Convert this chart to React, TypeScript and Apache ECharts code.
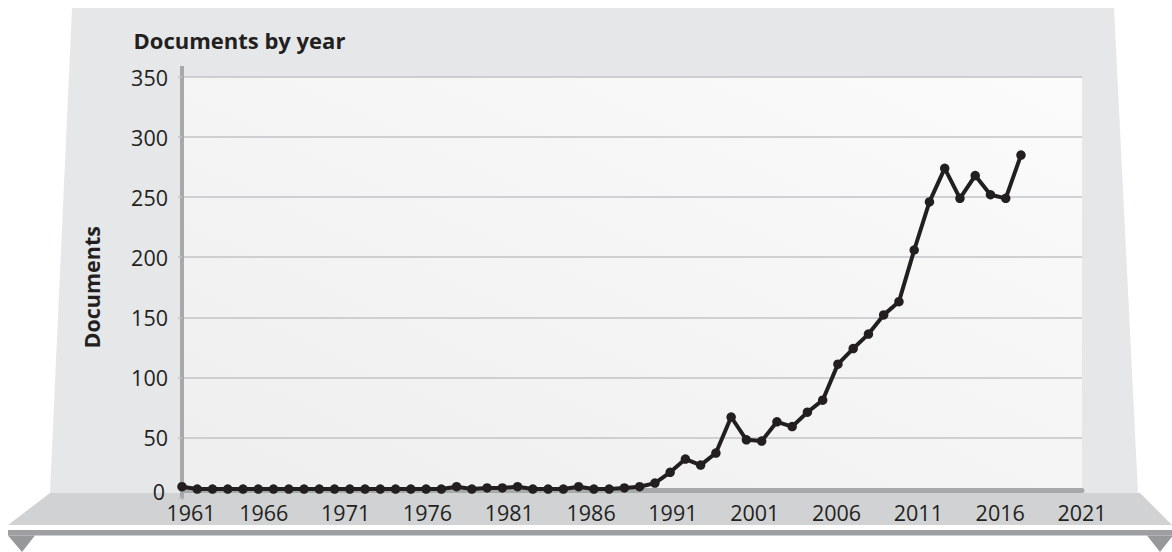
import React, { useEffect, useRef } from "react";
import * as echarts from "echarts";

// ---- Data ----
const years = [
  1961, 1962, 1963, 1964, 1965, 1966, 1967, 1968, 1969, 1970,
  1971, 1972, 1973, 1974, 1975, 1976, 1977, 1978, 1979, 1980,
  1981, 1982, 1983, 1984, 1985, 1986, 1987, 1988, 1989, 1990,
  1991, 1992, 1993, 1994, 1995, 1996, 1997, 1998, 1999, 2000,
  2001, 2002, 2003, 2004, 2005, 2006, 2007, 2008, 2009, 2010,
  2011, 2012, 2013, 2014, 2015, 2016,
];
const documents = [
  9, 7, 7, 7, 7, 7, 7, 7, 7, 7,
  7, 7, 7, 7, 7, 7, 7, 7, 9, 7,
  8, 8, 9, 7, 7, 7, 9, 7, 7, 8,
  9, 12, 21, 32, 27, 37, 67, 48, 47, 63,
  59, 71, 81, 111, 124, 136, 152, 163, 206, 246,
  274, 249, 268, 252, 249, 285,
];
const xTickLabels = [
  "1961", "1966", "1971", "1976", "1981", "1986",
  "1991", "2001", "2006", "2011", "2016", "2021",
];
const yMin = 0;
const yMax = 350;
const yInterval = 50;
const xDomainMin = 1961;
const xDomainMax = 2020;

// ---- Layout / style ----
const W = 1172;
const H = 552;
const GRID_LEFT = 182;
const GRID_RIGHT = 90;
const GRID_TOP = 77;
const GRID_BOTTOM = 54.5;
const FLOOR_TOP = 493;
const FONT = "'Open Sans', 'Noto Sans', sans-serif";
const INK = "#231f20";
const AXIS_GREY = "#a7a8aa";
const GRID_GREY = "#c3c3c7";
const LABEL_SIZE = 21.5;

export default function App() {
  const ref = useRef<HTMLDivElement>(null);

  useEffect(() => {
    if (!ref.current) return;
    const chart = echarts.init(ref.current, undefined, { renderer: "svg" });
    const plotW = W - GRID_LEFT - GRID_RIGHT;
    const labelStyle = { fontFamily: FONT, fontSize: LABEL_SIZE, color: INK };

    const option: any = {
      animation: false,
      backgroundColor: "#ffffff",
      title: {
        text: "Documents by year",
        left: 133.5,
        top: 29,
        padding: 0,
        textStyle: { fontFamily: FONT, fontSize: 22, fontWeight: "bold", color: INK },
      },
      grid: { left: GRID_LEFT, right: GRID_RIGHT, top: GRID_TOP, bottom: GRID_BOTTOM },
      graphic: [
        {
          type: "polygon",
          z: -30,
          silent: true,
          shape: { points: [[72, 8], [1114, 8], [1138, FLOOR_TOP], [50, FLOOR_TOP]] },
          style: { fill: "#e6e7e9" },
        },
        {
          type: "rect",
          z: -20,
          silent: true,
          shape: { x: GRID_LEFT, y: GRID_TOP, width: plotW, height: FLOOR_TOP - GRID_TOP },
          style: {
            fill: new echarts.graphic.LinearGradient(0, 1, 1, 0, [
              { offset: 0, color: "#eeeeef" },
              { offset: 1, color: "#fbfbfb" },
            ]),
          },
        },
        {
          type: "polygon",
          z: -10,
          silent: true,
          shape: { points: [[50, FLOOR_TOP], [1140, FLOOR_TOP], [1172, 525], [8, 525]] },
          style: { fill: "#d1d2d4" },
        },
        {
          type: "rect",
          z: -10,
          silent: true,
          shape: { x: 8, y: 530, width: 1164, height: 5.5 },
          style: { fill: "#9e9fa1" },
        },
        {
          type: "polygon",
          z: -10,
          silent: true,
          shape: { points: [[8, 535.5], [35, 535.5], [22, 552]] },
          style: { fill: "#97989a" },
        },
        {
          type: "polygon",
          z: -10,
          silent: true,
          shape: { points: [[1147, 535.5], [1173, 535.5], [1160, 552]] },
          style: { fill: "#97989a" },
        },
        {
          type: "rect",
          z: 3,
          silent: true,
          shape: { x: GRID_LEFT - 2, y: 66, width: 4, height: GRID_TOP - 66 + 1 },
          style: { fill: AXIS_GREY },
        },
      ],
      xAxis: [
        {
          type: "value",
          min: xDomainMin,
          max: xDomainMax,
          show: false,
          splitLine: { show: false },
        },
        {
          type: "category",
          data: xTickLabels,
          boundaryGap: false,
          position: "bottom",
          offset: -7,
          z: 3,
          axisLine: { show: true, lineStyle: { color: AXIS_GREY, width: 5 } },
          axisTick: { show: false },
          splitLine: { show: false },
          axisLabel: {
            interval: 0,
            margin: 11,
            ...labelStyle,
            formatter: (v: string, i: number) => (i === 0 ? "{first|" + v + "}" : v),
            rich: { first: { ...labelStyle, padding: [0, 0, 0, 18] } },
          },
        },
      ],
      yAxis: {
        type: "value",
        min: yMin,
        max: yMax,
        interval: yInterval,
        z: 3,
        name: "Documents",
        nameLocation: "middle",
        nameRotate: 90,
        nameGap: 80,
        nameTextStyle: { fontFamily: FONT, fontSize: 21.5, fontWeight: "bold", color: INK },
        axisLine: { show: true, lineStyle: { color: AXIS_GREY, width: 4 } },
        axisTick: { show: true, length: 4, lineStyle: { color: GRID_GREY, width: 1.5 } },
        axisLabel: {
          margin: 14,
          ...labelStyle,
          formatter: (v: number) => (v === 0 ? "{zero|0}" : String(v)),
          rich: { zero: { ...labelStyle, padding: [0, 3, 12, 0] } },
        },
        splitLine: { show: true, showMinLine: false, lineStyle: { color: GRID_GREY, width: 1.5 } },
      },
      series: [
        {
          type: "line",
          xAxisIndex: 0,
          yAxisIndex: 0,
          z: 5,
          data: years.map((y, i) => [y, documents[i]]),
          symbol: "circle",
          symbolSize: 9.5,
          lineStyle: { color: INK, width: 4 },
          itemStyle: { color: INK },
        },
      ],
    };

    chart.setOption(option);
    return () => chart.dispose();
  }, []);

  return (
    <div
      ref={ref}
      style={{ position: "fixed", left: 0, top: 0, width: W, height: H, background: "#fff" }}
    />
  );
}
